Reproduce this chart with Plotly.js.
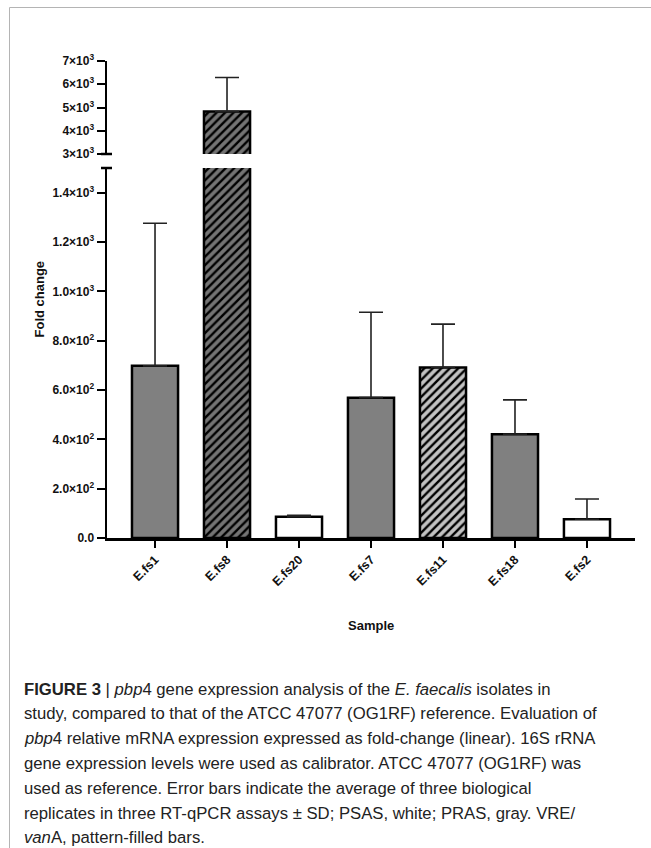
<!DOCTYPE html>
<html>
<head>
<meta charset="utf-8">
<script src="https://cdn.plot.ly/plotly-3.0.1.min.js"></script>
<style>
html,body{margin:0;padding:0;background:#fff;}
#chart{width:651px;height:848px;}
</style>
</head>
<body>
<div id="chart"></div>
<script>
// ---- data ----
const samples = ['E.fs1', 'E.fs8', 'E.fs20', 'E.fs7', 'E.fs11', 'E.fs18', 'E.fs2'];
const foldChange = [698, 4823, 86, 569, 691, 421, 76];
const sdUpper = [578, 1466, 6, 346, 176, 139, 82];
const fillColors = ['#808080', '#747474', '#ffffff', '#808080', '#c2c2c2', '#808080', '#ffffff'];
const patternShapes = ['', '/', '', '', '/', '', ''];
const lowerTickVals = [0, 200, 400, 600, 800, 1000, 1200, 1400];
const lowerTickText = ['0.0', '2.0×10<sup>2</sup>', '4.0×10<sup>2</sup>', '6.0×10<sup>2</sup>', '8.0×10<sup>2</sup>', '1.0×10<sup>3</sup>', '1.2×10<sup>3</sup>', '1.4×10<sup>3</sup>'];
const upperTickVals = [3000, 4000, 5000, 6000, 7000];
const upperTickText = ['3×10<sup>3</sup>', '4×10<sup>3</sup>', '5×10<sup>3</sup>', '6×10<sup>3</sup>', '7×10<sup>3</sup>'];
const breakSample = 'E.fs8';
const captionLines = [
  '<b>FIGURE 3</b> | <i>pbp</i>4 gene expression analysis of the <i>E. faecalis</i> isolates in',
  'study, compared to that of the ATCC 47077 (OG1RF) reference. Evaluation of',
  '<i>pbp</i>4 relative mRNA expression expressed as fold-change (linear). 16S rRNA',
  'gene expression levels were used as calibrator. ATCC 47077 (OG1RF) was',
  'used as reference. Error bars indicate the average of three biological',
  'replicates in three RT-qPCR assays ± SD; PSAS, white; PRAS, gray. VRE/',
  '<i>van</i>A, pattern-filled bars.'
];

// ---- layout helpers (pixel -> paper) ----
const W = 651, H = 848, L = 107, R = 16, T = 61, B = 310;
const pw = W - L - R, ph = H - T - B;
const px = x => (x - L) / pw;
const py = y => (H - B - y) / ph;
const lowerTop = py(168), upperBottom = py(154);

const FAM = 'Liberation Sans, Arial, sans-serif';
const yTickFont = {family: FAM, size: 12, color: '#111', weight: 'bold'};
const xTickFont = {family: FAM, size: 12.5, color: '#111', weight: 'bold'};

function barTrace(i, yaxis) {
  const marker = {color: fillColors[i], line: {color: '#000', width: 2.5}};
  if (patternShapes[i]) {
    marker.pattern = {shape: patternShapes[i], fillmode: 'replace', bgcolor: fillColors[i],
                      fgcolor: '#000', fgopacity: 1, size: 6, solidity: 0.4};
  }
  return {
    type: 'bar', x: [samples[i]], y: [foldChange[i]], xaxis: 'x', yaxis: yaxis, width: 0.64,
    marker: marker,
    error_y: {type: 'data', symmetric: false, array: [sdUpper[i]], arrayminus: [0], color: '#222', thickness: 1.6, width: 12},
    hoverinfo: 'x+y', showlegend: false
  };
}
const traces = samples.map((s, i) => barTrace(i, 'y'));
traces.push(barTrace(samples.indexOf(breakSample), 'y2'));

const annotations = [
  {text: '<b>Fold change</b>', xref: 'paper', yref: 'paper', x: px(39), y: 0.5, textangle: -90, showarrow: false,
   font: {family: FAM, size: 13, color: '#111'}, xanchor: 'center', yanchor: 'middle'},
  {text: '<b>Sample</b>', xref: 'paper', yref: 'paper', x: 0.5, y: py(625), showarrow: false,
   font: {family: FAM, size: 13, color: '#111'}, xanchor: 'center', yanchor: 'middle'}
];
captionLines.forEach((t, i) => {
  annotations.push({text: t, xref: 'paper', yref: 'paper', x: px(22), y: py(689 + i * 24.8), showarrow: false,
    xanchor: 'left', yanchor: 'middle', align: 'left',
    font: {family: FAM, size: 16.7, color: '#222'}});
});

const shapes = [
  // frame
  {type: 'line', xref: 'paper', yref: 'paper', x0: px(9.5), x1: px(9.5), y0: py(7.5), y1: py(848), line: {color: '#b4b4b4', width: 1}},
  {type: 'line', xref: 'paper', yref: 'paper', x0: px(9.5), x1: px(651), y0: py(7.5), y1: py(7.5), line: {color: '#b4b4b4', width: 1}},
  // axis break caps
  {type: 'line', xref: 'paper', yref: 'paper', x0: px(101), x1: px(112), y0: upperBottom, y1: upperBottom, line: {color: '#000', width: 2.5}},
  {type: 'line', xref: 'paper', yref: 'paper', x0: px(101), x1: px(112), y0: lowerTop, y1: lowerTop, line: {color: '#000', width: 2.5}}
];

const layout = {
  width: W, height: H,
  margin: {l: L, r: R, t: T, b: B, pad: 0},
  paper_bgcolor: '#fff', plot_bgcolor: 'rgba(0,0,0,0)',
  barmode: 'overlay',
  showlegend: false,
  xaxis: {
    type: 'category', categoryorder: 'array', categoryarray: samples,
    range: [-0.667, 6.667], anchor: 'y',
    showline: true, linecolor: '#000', linewidth: 2.5, mirror: false,
    ticks: 'outside', ticklen: 7, tickwidth: 2, tickcolor: '#000',
    tickangle: -45, tickfont: xTickFont, showgrid: false, zeroline: false, fixedrange: true
  },
  yaxis: {
    domain: [0, lowerTop], range: [0, 1500], anchor: 'x',
    tickmode: 'array', tickvals: lowerTickVals, ticktext: lowerTickText,
    showline: true, linecolor: '#000', linewidth: 2.5,
    ticks: 'outside', ticklen: 8, tickwidth: 2, tickcolor: '#000',
    tickfont: yTickFont, showgrid: false, zeroline: false, fixedrange: true
  },
  yaxis2: {
    domain: [upperBottom, 1], range: [3000, 7000], anchor: 'x',
    tickmode: 'array', tickvals: upperTickVals, ticktext: upperTickText,
    showline: true, linecolor: '#000', linewidth: 2.5,
    ticks: 'outside', ticklen: 8, tickwidth: 2, tickcolor: '#000',
    tickfont: yTickFont, showgrid: false, zeroline: false, fixedrange: true
  },
  annotations: annotations,
  shapes: shapes
};

Plotly.newPlot('chart', traces, layout, {displayModeBar: false, staticPlot: true});
</script>
</body>
</html>
